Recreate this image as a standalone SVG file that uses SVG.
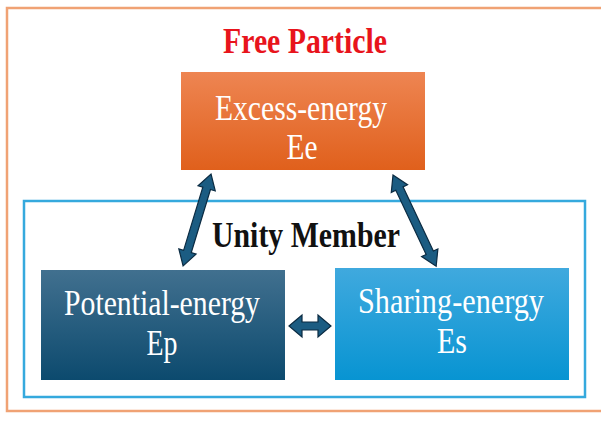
<svg xmlns="http://www.w3.org/2000/svg" width="601" height="421" viewBox="0 0 601 421">
<defs>
<linearGradient id="gOr" x1="0" y1="0" x2="0" y2="1"><stop offset="0" stop-color="#ee8552"/><stop offset="1" stop-color="#e0601c"/></linearGradient>
<linearGradient id="gDk" x1="0" y1="0" x2="0" y2="1"><stop offset="0" stop-color="#41708f"/><stop offset="1" stop-color="#0c4a6e"/></linearGradient>
<linearGradient id="gLt" x1="0" y1="0" x2="0" y2="1"><stop offset="0" stop-color="#40a9de"/><stop offset="1" stop-color="#0894d2"/></linearGradient>
<style>
.box{stroke:none}
.lbl{font-family:"Liberation Serif","Times New Roman",serif;font-size:35px;fill:#ffffff;text-anchor:middle}
.ttl{font-family:"Liberation Serif","Times New Roman",serif;font-size:36px;font-weight:bold;text-anchor:middle}
.arr{fill:#1b5c82;stroke:#0b2b42;stroke-width:1.2;stroke-linejoin:miter}
</style>
</defs>
<rect x="0" y="0" width="601" height="421" fill="#ffffff"/>
<rect id="frame-outer" x="7" y="8" width="600" height="403" fill="none" stroke="#f0a274" stroke-width="2.5"/>
<text class="ttl" x="305" y="53" fill="#e8141c" textLength="164" lengthAdjust="spacingAndGlyphs">Free Particle</text>
<g id="unity">
<rect x="24" y="201" width="561" height="196" fill="none" stroke="#35a9dd" stroke-width="2.5"/>
<text class="ttl" x="306" y="247" fill="#111111" textLength="188" lengthAdjust="spacingAndGlyphs">Unity Member</text>
</g>
<g id="excess">
<rect class="box" x="181" y="72" width="244" height="98" fill="url(#gOr)"/>
<text class="lbl" x="301" y="120" textLength="172" lengthAdjust="spacingAndGlyphs">Excess-energy</text>
<text class="lbl" x="302" y="159" textLength="31" lengthAdjust="spacingAndGlyphs">Ee</text>
</g>
<g id="potential">
<rect class="box" x="41" y="270" width="244" height="110" fill="url(#gDk)"/>
<text class="lbl" x="162" y="315" textLength="196" lengthAdjust="spacingAndGlyphs">Potential-energy</text>
<text class="lbl" x="162" y="355" textLength="31" lengthAdjust="spacingAndGlyphs">Ep</text>
</g>
<g id="sharing">
<rect class="box" x="335" y="268" width="234" height="112" fill="url(#gLt)"/>
<text class="lbl" x="451" y="313" textLength="186" lengthAdjust="spacingAndGlyphs">Sharing-energy</text>
<text class="lbl" x="452" y="353" textLength="30" lengthAdjust="spacingAndGlyphs">Es</text>
</g>
<g id="connectors">
<polygon class="arr" transform="translate(211,174) rotate(106.9)" points="0,0 15,-9 15,-4 81,-4 81,-9 96,0 81,9 81,4 15,4 15,9"/>
<polygon class="arr" transform="translate(393,175) rotate(64.7)" points="0,0 15,-9 15,-4 86,-4 86,-9 101,0 86,9 86,4 15,4 15,9"/>
<polygon class="arr" transform="translate(289,326)" points="0,0 13,-11 13,-4 29,-4 29,-11 42,0 29,11 29,4 13,4 13,11"/>
</g>
</svg>
